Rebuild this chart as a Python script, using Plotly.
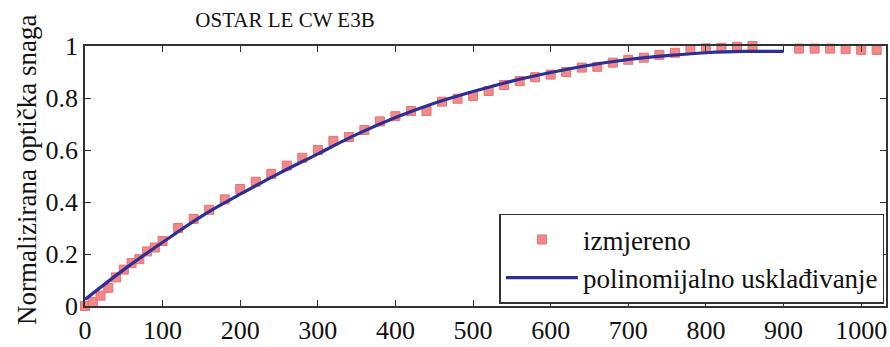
import plotly.graph_objects as go

meas_x = [0, 10, 20, 30, 40, 50, 60, 70, 80, 90, 100, 120, 140, 160, 180, 200,
          220, 240, 260, 280, 300, 320, 340, 360, 380, 400, 420, 440, 460, 480,
          500, 520, 540, 560, 580, 600, 620, 640, 660, 680, 700, 720, 740, 760,
          780, 800, 820, 840, 860, 880, 900, 920, 940, 960, 980, 1000, 1020]
meas_y = [0.00, 0.015, 0.04, 0.07, 0.11, 0.14, 0.165, 0.18, 0.21, 0.225, 0.25,
          0.30, 0.335, 0.37, 0.41, 0.45, 0.478, 0.508, 0.54, 0.57, 0.60, 0.635,
          0.650, 0.677, 0.71, 0.73, 0.75, 0.75, 0.786, 0.797, 0.808, 0.827,
          0.850, 0.865, 0.88, 0.89, 0.90, 0.917, 0.92, 0.936, 0.947, 0.955,
          0.966, 0.974, 0.985, 0.991, 0.993, 0.997, 1.0, 1.005, 1.005, 0.99,
          0.99, 0.99, 0.988, 0.985, 0.985]

# Polynomial fit curve
fit_x = [0, 50, 100, 150, 200, 250, 300, 350, 400, 450, 500, 550, 600, 650,
         700, 750, 800, 850, 900]
fit_y = [0.025, 0.14, 0.245, 0.345, 0.43, 0.51, 0.585, 0.66, 0.725, 0.78,
         0.825, 0.865, 0.898, 0.926, 0.948, 0.963, 0.974, 0.979, 0.979]

x_ticks = [0, 100, 200, 300, 400, 500, 600, 700, 800, 900, 1000]
y_ticks = [0, 0.2, 0.4, 0.6, 0.8, 1]

title_text = "OSTAR LE CW E3B"
y_label = "Normalizirana optička snaga"
name_meas = "izmjereno"
name_fit = "polinomijalno usklađivanje"

FONT = "Liberation Serif"

fig = go.Figure()
fig.add_trace(go.Scatter(
    x=meas_x, y=meas_y, mode="markers", name=name_meas,
    marker=dict(symbol="square", size=9, color="#F28888",
                line=dict(color="#E57373", width=1)),
    cliponaxis=False,
))
fig.add_trace(go.Scatter(
    x=fit_x, y=fit_y, mode="lines", name=name_fit,
    line=dict(color="#2D2F96", width=3.2, shape="spline"),
    cliponaxis=False,
))

axis_common = dict(
    showgrid=False, zeroline=False, showline=True, linecolor="#333333",
    linewidth=1.5, mirror="ticks", ticks="inside", ticklen=6,
    tickcolor="#333333", tickfont=dict(family=FONT, size=26, color="#111111"),
)

fig.update_layout(
    width=890, height=347,
    margin=dict(l=85, r=2, t=46, b=35),
    paper_bgcolor="white", plot_bgcolor="white",
    font=dict(family=FONT, color="#111111"),
    title=dict(text=title_text, x=285 / 890, xanchor="center",
               y=1 - 20 / 347, yanchor="middle",
               font=dict(family=FONT, size=21, color="#111111")),
    xaxis=dict(range=[0, 1032], tickvals=x_ticks, **axis_common),
    yaxis=dict(range=[0, 1], tickvals=y_ticks, **axis_common),
    showlegend=True,
    legend=dict(x=0.998, xanchor="right", y=0.008, yanchor="bottom",
                bgcolor="white", bordercolor="#333333", borderwidth=1.5,
                font=dict(family=FONT, size=27, color="#111111"),
                itemwidth=72, tracegroupgap=0),
    annotations=[dict(
        text=y_label, textangle=-90, xref="paper", yref="paper",
        x=0, y=0.5, xshift=-58, yshift=6, showarrow=False,
        font=dict(family=FONT, size=27, color="#111111"),
        xanchor="center", yanchor="middle")],
)

fig.write_html("out.html")
